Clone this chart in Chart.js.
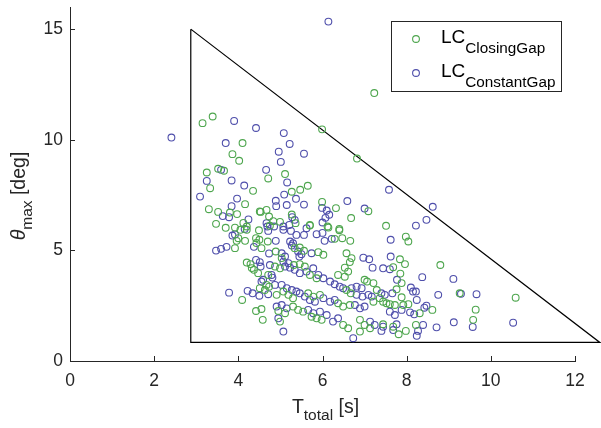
<!DOCTYPE html>
<html>
<head>
<meta charset="utf-8">
<script src="https://cdn.jsdelivr.net/npm/chart.js@4.4.1/dist/chart.umd.min.js"></script>
<style>
  html, body { margin: 0; padding: 0; background: #fff; }
  canvas { display: block; }
</style>
</head>
<body>
<canvas id="myChart" width="601" height="428"></canvas>
<script>
// tick values
const xTicks = [0, 2, 4, 6, 8, 10, 12];
const yTicks = [0, 5, 10, 15];

// T_total [s], theta_max [deg] for each run
const closingGap = [
  [7.23,12.11],[3.39,11.05],[3.15,10.75],[4.10,9.85],[3.86,9.35],[4.02,9.05],[3.52,8.69],[3.66,8.60],
  [3.25,8.52],[3.33,7.81],[4.35,7.69],[4.16,7.09],[3.30,6.86],[3.52,6.74],[3.80,6.71],[3.97,6.64],
  [3.47,6.20],[3.70,6.02],[4.12,6.24],[4.20,6.08],[4.51,6.76],
  [5.99,10.47],[6.82,9.15],[5.11,8.45],[4.71,8.25],[5.65,7.92],[5.47,7.74],[5.27,7.65],[5.99,7.19],
  [6.32,6.91],[7.09,6.77],[4.67,6.83],[4.53,6.74],[6.68,6.46],[5.27,6.62],[4.73,6.53],[4.83,6.32],
  [4.99,6.29],[5.36,6.23],[5.70,6.15],[6.12,6.08],[6.40,5.97],[7.51,6.11],
  [3.92,6.03],[4.05,5.93],[4.20,5.93],[4.49,5.91],[4.75,6.11],[4.00,5.55],[3.96,5.43],[4.16,5.43],
  [3.92,5.10],[4.42,5.55],[4.50,5.48],[4.43,5.33],[4.55,5.10],[4.70,5.40],[4.89,4.95],[4.20,4.45],
  [4.32,4.20],[4.37,4.12],[4.47,3.97],[4.29,4.38],[4.71,3.89],[4.87,4.27],[4.67,3.44],[4.73,3.36],
  [4.63,3.21],[4.51,3.29],[4.09,2.76],[4.91,2.99],[4.42,2.26],[4.55,2.35],[4.58,1.86],[4.95,2.26],
  [5.70,6.12],[6.14,6.03],[6.40,5.91],[6.47,5.55],[6.66,5.43],[6.29,5.52],[5.34,5.10],[5.46,5.13],
  [5.56,4.98],[5.90,4.92],[6.02,4.80],[6.65,4.47],[6.53,4.22],[6.61,4.04],[6.37,3.89],[6.53,3.81],
  [5.03,4.65],[4.99,4.19],[5.32,4.34],[5.46,4.38],[5.58,4.27],[5.70,3.89],[5.86,3.74],[7.00,3.67],
  [7.06,3.59],[6.57,3.21],[6.67,3.06],[7.21,3.52],[7.29,3.21],[7.21,2.68],[5.07,3.14],[5.19,2.99],
  [5.30,2.84],[5.66,3.06],[5.78,2.91],[5.94,2.99],[6.37,2.61],[6.49,2.46],[6.65,2.53],[5.30,2.46],
  [5.42,2.31],[5.54,2.23],[5.74,2.00],[5.86,1.93],[5.98,1.86],[6.49,1.63],[6.61,1.48],[6.89,1.33],
  [6.89,1.86],[7.00,1.63],[7.13,1.48],[5.11,2.16],[4.99,1.78],[6.57,4.87],[6.69,4.65],
  [7.98,5.62],[8.04,5.40],[7.84,4.60],[7.96,4.38],[7.68,4.24],[8.80,4.34],[7.85,3.95],[7.88,3.52],
  [7.76,3.24],[7.36,2.84],[7.44,2.68],[7.52,2.61],[7.60,2.57],[7.88,2.88],[9.26,3.06],[7.92,2.53],
  [8.04,2.57],[7.72,2.53],[8.61,2.31],[8.31,2.16],[9.64,2.32],[9.58,1.86],[8.22,1.63],[7.98,1.36],
  [7.81,1.21],[7.44,1.66],[7.68,1.55],[10.59,2.86]
];

const constantGap = [
  [6.14,15.34],[3.90,10.85],[2.41,10.10],[4.42,10.53],[3.70,9.85],[3.59,8.64],[3.25,8.14],[3.84,8.16],
  [4.14,7.93],[3.09,7.43],[3.97,7.34],[3.84,7.00],[3.63,6.55],[3.78,6.50],[4.24,6.40],
  [5.08,10.30],[5.22,9.81],[4.96,9.46],[5.56,9.37],[5.01,9.00],[4.66,8.64],[5.16,8.07],[5.09,7.52],
  [4.89,7.24],[5.37,7.33],[5.15,7.05],[4.90,7.00],[5.56,7.07],[5.99,6.92],[6.10,6.80],[6.59,7.23],
  [7.00,6.89],[6.16,6.61],[6.07,6.47],[5.28,6.50],[5.34,6.38],[4.67,6.23],[6.00,6.26],[4.69,6.08],
  [4.85,6.08],[5.07,6.08],[5.21,6.15],[5.62,6.00],
  [7.58,7.74],[8.62,6.97],[8.47,6.38],[8.22,6.12],
  [4.15,5.97],[4.71,5.88],[3.86,5.67],[3.92,5.72],[3.47,4.99],[3.59,5.07],[3.72,5.16],[4.37,5.16],
  [4.89,5.43],[4.73,4.86],[4.42,4.57],[4.51,4.47],[4.53,4.27],[4.75,4.34],[4.79,3.89],[4.81,3.77],
  [4.55,3.59],[4.59,3.67],[4.87,3.44],[3.78,3.09],[4.22,3.17],[4.34,3.06],[4.50,2.95],[4.71,3.02],
  [4.91,2.46],[4.95,1.93],
  [5.07,5.93],[5.25,5.88],[5.38,5.70],[5.56,5.70],[5.86,5.73],[6.00,5.79],[6.05,5.43],[6.22,5.52],
  [5.23,5.40],[5.30,5.32],[5.27,5.22],[5.42,4.95],[5.50,4.83],[5.45,4.72],[5.74,4.87],[6.97,4.67],
  [7.11,4.60],[7.19,4.22],[5.07,4.49],[5.19,4.42],[5.11,4.27],[5.23,4.22],[5.34,4.12],[5.46,3.97],
  [5.62,4.04],[5.78,4.19],[5.90,3.89],[6.02,3.74],[6.18,3.59],[6.29,3.47],[6.41,3.36],[6.49,3.29],
  [6.69,3.29],[6.81,3.36],[6.93,3.29],[6.81,2.99],[6.95,2.91],[7.09,2.99],[7.17,2.91],[5.03,3.44],
  [5.15,3.29],[5.27,3.21],[5.38,3.14],[5.46,3.06],[5.58,2.91],[5.70,2.76],[5.82,2.68],[6.02,2.84],
  [6.18,2.68],[6.29,2.76],[6.77,2.53],[6.89,2.38],[7.00,2.46],[5.03,2.53],[5.15,2.38],[5.66,2.31],
  [5.78,2.16],[5.94,2.23],[6.10,2.08],[6.25,1.78],[6.37,1.93],[6.73,1.03],[5.07,1.33],[7.13,1.78],
  [7.24,1.63],[5.03,4.87],[5.11,4.72],
  [7.62,5.48],[7.62,4.72],[7.44,4.19],[7.60,4.15],[8.37,3.79],[9.11,3.71],[7.77,3.67],[8.10,3.32],
  [8.15,3.14],[8.22,3.14],[7.66,3.06],[7.48,2.99],[7.40,3.06],[8.75,2.99],[9.29,3.04],[9.66,3.02],
  [8.24,2.76],[8.47,2.50],[8.42,2.41],[7.88,2.31],[8.08,2.20],[8.18,2.11],[7.60,2.23],[7.72,2.08],
  [9.57,1.54],[9.12,1.75],[8.71,1.52],[8.39,1.63],[8.27,1.36],[8.24,1.14],[7.44,1.55],[7.68,1.40],
  [7.76,1.66],[7.40,1.36],[10.53,1.73]
];

// feasible region outline
const boundT = [2.87, 2.87, 12.59, 2.87];
const boundTheta = [15, 0.84, 0.84, 15];

const green = '#4ea64e';
const blue = '#4f4fab';
const axisColor = '#262626';
const fontName = '"Liberation Sans", Arial, Helvetica, sans-serif';

function toPts(arr) { return arr.map(p => ({x: p[0], y: p[1]})); }

// draw a string made of [text, size, dy, italic] pieces
function drawParts(ctx, x, y, parts, align) {
  let w = 0;
  parts.forEach(p => { ctx.font = (p[3] ? 'italic ' : '') + p[1] + 'px ' + fontName; w += ctx.measureText(p[0]).width; });
  let cx = align === 'center' ? x - w / 2 : x;
  parts.forEach(p => {
    ctx.font = (p[3] ? 'italic ' : '') + p[1] + 'px ' + fontName;
    ctx.fillText(p[0], cx, y + p[2]);
    cx += ctx.measureText(p[0]).width;
  });
}

const deco = {
  id: 'deco',
  afterDatasetsDraw(chart) {
    const {ctx, chartArea: a, scales: {x, y}} = chart;
    ctx.save();
    // inward ticks
    ctx.strokeStyle = axisColor;
    ctx.lineWidth = 1;
    ctx.beginPath();
    xTicks.forEach(v => {
      const p = Math.round(x.getPixelForValue(v)) + 0.5;
      ctx.moveTo(p, a.bottom); ctx.lineTo(p, a.bottom - 5);
    });
    yTicks.forEach(v => {
      const p = Math.round(y.getPixelForValue(v)) + 0.5;
      ctx.moveTo(a.left, p); ctx.lineTo(a.left + 5, p);
    });
    ctx.stroke();

    ctx.fillStyle = axisColor;
    ctx.textBaseline = 'alphabetic';
    ctx.textAlign = 'left';
    // x title
    drawParts(ctx, (a.left + a.right) / 2 + 3, 413, [['T', 19.5, 0], ['total', 15.5, 7], [' [s]', 19.5, 0]], 'center');
    // y title
    ctx.translate(25, 196);
    ctx.rotate(-Math.PI / 2);
    drawParts(ctx, 0, 0, [['\u03b8', 19.5, 0, true], ['max', 15.5, 7], [' [deg]', 19.5, 0]], 'center');
    ctx.restore();

    // legend
    ctx.save();
    ctx.fillStyle = '#fff';
    ctx.fillRect(391, 21, 171, 71);
    ctx.strokeStyle = axisColor;
    ctx.lineWidth = 1;
    ctx.strokeRect(391.5, 21.5, 170, 70);
    const rows = [[green, 'ClosingGap', 39], [blue, 'ConstantGap', 73]];
    rows.forEach(r => {
      ctx.strokeStyle = r[0];
      ctx.lineWidth = 1.1;
      ctx.beginPath();
      ctx.arc(416, r[2], 3.4, 0, Math.PI * 2);
      ctx.stroke();
      ctx.fillStyle = '#000';
      drawParts(ctx, 441, r[2] + 3.5, [['LC', 19, 0], [r[1], 15.3, 10]], 'left');
    });
    ctx.restore();
  }
};

const ctx = document.getElementById('myChart').getContext('2d');
const myChart = new Chart(ctx, {
  type: 'scatter',
  data: {
    datasets: [{
      label: 'LC ClosingGap',
      data: toPts(closingGap),
      borderColor: green,
      backgroundColor: 'rgba(0,0,0,0)',
      pointRadius: 3.4,
      pointHoverRadius: 3.4,
      pointBorderWidth: 1.1
    }, {
      label: 'LC ConstantGap',
      data: toPts(constantGap),
      borderColor: blue,
      backgroundColor: 'rgba(0,0,0,0)',
      pointRadius: 3.4,
      pointHoverRadius: 3.4,
      pointBorderWidth: 1.1
    }, {
      label: 'bound',
      data: boundT.map((t, i) => ({x: t, y: boundTheta[i]})),
      showLine: true,
      borderColor: '#000',
      borderWidth: 1.2,
      pointRadius: 0,
      fill: false,
      clip: false
    }]
  },
  plugins: [deco],
  options: {
    responsive: false,
    animation: false,
    devicePixelRatio: 1,
    layout: { padding: { top: 7, right: 26, left: 0, bottom: 0 } },
    plugins: { legend: { display: false }, tooltip: { enabled: false } },
    scales: {
      x: {
        type: 'linear', min: 0, max: 12,
        afterBuildTicks: s => { s.ticks = xTicks.map(v => ({value: v})); },
        afterFit: s => { s.height = 67; s.paddingLeft = 0; s.paddingRight = 0; },
        grid: { display: false, drawTicks: false },
        border: { display: true, color: axisColor, width: 1 },
        ticks: { padding: 10, color: axisColor, font: { family: fontName, size: 17.5 } }
      },
      y: {
        type: 'linear', min: 0, max: 16,
        afterBuildTicks: s => { s.ticks = yTicks.map(v => ({value: v})); },
        afterFit: s => { s.width = 70; s.paddingTop = 0; s.paddingBottom = 0; },
        grid: { display: false, drawTicks: false },
        border: { display: true, color: axisColor, width: 1 },
        ticks: { padding: 7, color: axisColor, font: { family: fontName, size: 17.5 } }
      }
    }
  }
});
</script>
</body>
</html>
